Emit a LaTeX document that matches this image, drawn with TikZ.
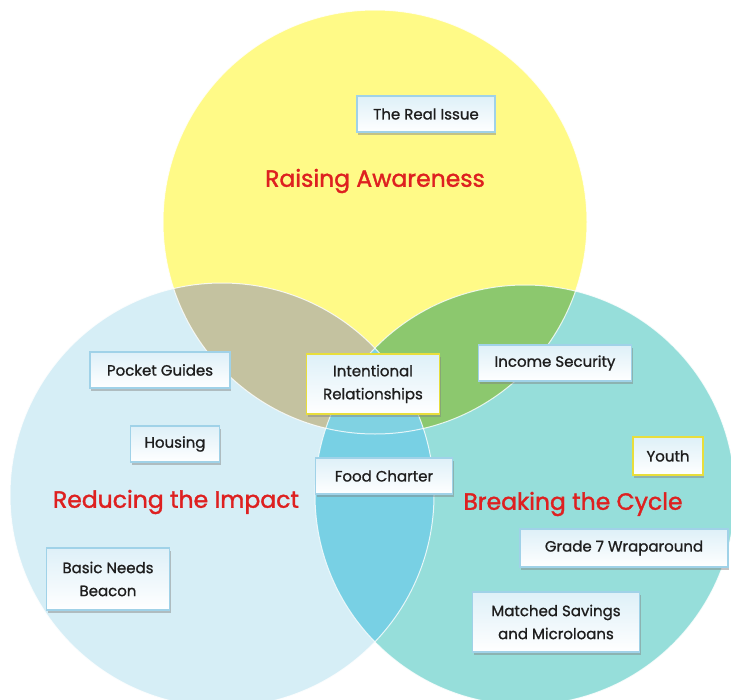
\documentclass[tikz,border=0pt]{standalone}
\usepackage{fontspec}
\setmainfont{Poppins}[FakeBold=1]
\newfontfamily\headfont{Poppins}[FakeBold=1.5]
\usetikzlibrary{shadows}

\definecolor{aware}{RGB}{255,250,135}
\definecolor{impact}{RGB}{214,238,246}
\definecolor{breakc}{RGB}{150,222,218}
\definecolor{grylens}{RGB}{196,194,160}
\definecolor{grnlens}{RGB}{140,200,110}
\definecolor{cynlens}{RGB}{120,208,228}
\definecolor{midlens}{RGB}{128,210,226}
\definecolor{tagline}{RGB}{160,210,232}
\definecolor{tagtop}{RGB}{222,240,248}
\definecolor{yelline}{RGB}{232,222,60}
\definecolor{headred}{RGB}{222,32,32}
\definecolor{tagtext}{RGB}{30,30,30}

\begin{document}
\begin{tikzpicture}[x=1pt,y=-1pt,
  tag/.style={draw=tagline, line width=1.2pt, top color=tagtop, bottom color=white,
    text=tagtext, font=\fontsize{15}{23}\selectfont, align=center,
    inner xsep=6pt, inner ysep=4pt, minimum height=36pt,
    drop shadow={opacity=.45, shadow xshift=1pt, shadow yshift=-2.5pt}},
  ytag/.style={tag, draw=yelline},
  head/.style={text=headred, font=\headfont\fontsize{23.5}{28}\selectfont}]
\useasboundingbox (0,0) rectangle (731,699);
\clip (0,0) rectangle (731,699);
\fill[white] (0,0) rectangle (731,699);
\coordinate (A) at (375,222);
\coordinate (L) at (222,495);
\coordinate (R) at (525,495);
\fill[aware] (A) circle (212pt);
\fill[impact] (L) circle (212pt);
\fill[breakc] (R) circle (210pt);
\begin{scope}
 \clip (A) circle (212pt);
 \fill[grylens] (L) circle (212pt);
 \fill[grnlens] (R) circle (210pt);
\end{scope}
\begin{scope}
 \clip (L) circle (212pt);
 \fill[cynlens] (R) circle (210pt);
 \clip (A) circle (212pt);
 \fill[midlens] (R) circle (210pt);
\end{scope}
\foreach \c/\r in {A/212,L/212,R/210}
 \draw[white, line width=1pt, opacity=.8] (\c) circle (\r pt);

\node[head] (aware) at (375,181) {Raising Awareness};
\node[head] (reduce) at (176,502) {Reducing the Impact};
\node[head] (cycle) at (573,504) {Breaking the Cycle};

\node[tag, minimum width=138pt] (real) at (426,114) {The Real Issue};
\node[tag, minimum width=140pt] (pocket) at (160,370) {Pocket Guides};
\node[tag, minimum width=89pt] (housing) at (175,444) {Housing};
\node[tag, minimum width=123pt, minimum height=62pt] (beacon) at (108,579) {Basic Needs\\Beacon};
\node[ytag, minimum width=133pt, minimum height=60pt] (intent) at (373,384) {Intentional\\Relationships};
\node[tag, minimum width=153pt] (income) at (555,363) {Income Security};
\node[tag, minimum width=137pt] (food) at (384,476) {Food Charter};
\node[ytag, minimum width=70pt, minimum height=38pt] (youth) at (668,456) {Youth};
\node[tag, minimum width=208pt, minimum height=38pt] (wrap) at (624,548) {Grade 7 Wraparound};
\node[tag, minimum width=167pt, minimum height=60pt] (savings) at (556,622) {Matched Savings\\and Microloans};
\end{tikzpicture}
\end{document}
